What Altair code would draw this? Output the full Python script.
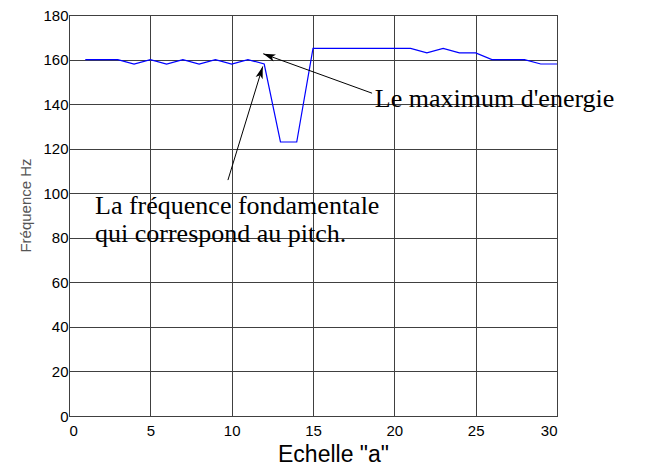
import math
import altair as alt
import pandas as pd

# ---- data ----
scale_a = list(range(1, 31))
freq_hz = [160, 160, 160, 158, 160, 158, 160, 158, 160, 158,
           160, 158, 123, 123, 165, 165, 165, 165, 165, 165,
           165, 163, 165, 163, 163, 160, 160, 160, 158, 158]

x_ticks = [0, 5, 10, 15, 20, 25, 30]
y_ticks = [0, 20, 40, 60, 80, 100, 120, 140, 160, 180]

# annotation texts (data coordinates)
ann_text = ["La fréquence fondamentale", "qui correspond au pitch.", "Le maximum d'energie"]
ann_tx = [1.6, 1.6, 18.8]
ann_ty = [90.6, 78.2, 138.6]

# arrows: start -> tip (data coordinates)
arr_x0 = [9.77, 18.63]
arr_y0 = [105.9, 144.9]
arr_x1 = [11.91, 11.94]
arr_y1 = [156.9, 162.6]

W, H = 488, 401
px_x = W / 30.0
px_y = H / 180.0

line_df = pd.DataFrame({"a": scale_a, "f": freq_hz})
text_df = pd.DataFrame({"t": ann_text, "x": ann_tx, "y": ann_ty})
angles = []
for x0, y0, x1, y1 in zip(arr_x0, arr_y0, arr_x1, arr_y1):
    dx = (x1 - x0) * px_x
    dy = -(y1 - y0) * px_y
    ang = math.degrees(math.atan2(dx, -dy)) % 360
    angles.append(ang)
arr_df = pd.DataFrame({"x0": arr_x0, "y0": arr_y0, "x1": arr_x1, "y1": arr_y1, "ang": angles})

xs = alt.Scale(domain=[0, 30], nice=False, zero=False)
ys = alt.Scale(domain=[0, 180], nice=False)

xaxis = alt.Axis(values=x_ticks, grid=True, ticks=False, domain=False,
                 labelFont="Liberation Sans", labelFontSize=15, labelColor="black",
                 labelPadding=7, title='Echelle "a"', titleFont="Liberation Sans",
                 titleFontSize=23, titleFontWeight="normal", titleColor="black",
                 titleX=264, titleY=45, titleBaseline="alphabetic", titleAlign="center")
yaxis = alt.Axis(values=y_ticks, grid=True, ticks=False, domain=False,
                 labelFont="Liberation Sans", labelFontSize=15, labelColor="black",
                 labelPadding=1, title="Fréquence Hz", titleFont="Liberation Sans",
                 titleFontSize=15, titleFontWeight="normal", titleColor="#555555",
                 titleAngle=270, titleX=-44, titleY=190, titleAlign="center",
                 titleBaseline="middle")

line = alt.Chart(line_df).mark_line(color="#0000ff", strokeWidth=1.2).encode(
    x=alt.X("a:Q", scale=xs, axis=xaxis),
    y=alt.Y("f:Q", scale=ys, axis=yaxis),
)

rules = alt.Chart(arr_df).mark_rule(color="black", strokeWidth=1).encode(
    x=alt.X("x0:Q", scale=xs), y=alt.Y("y0:Q", scale=ys),
    x2="x1:Q", y2="y1:Q",
)

heads = alt.Chart(arr_df).mark_point(
    shape="M0,0 L-0.6,2 L0,1.5 L0.6,2 Z", filled=True, color="black",
    size=150, opacity=1, strokeWidth=0,
).encode(
    x=alt.X("x1:Q", scale=xs), y=alt.Y("y1:Q", scale=ys),
    angle=alt.Angle("ang:Q", scale=None),
)

texts = alt.Chart(text_df).mark_text(
    align="left", baseline="alphabetic", font="Liberation Serif",
    fontSize=26, color="black",
).encode(
    x=alt.X("x:Q", scale=xs), y=alt.Y("y:Q", scale=ys), text="t:N",
)

chart = alt.layer(line, rules, heads, texts).properties(
    width=W, height=H,
    autosize=alt.AutoSizeParams(type="none"),
    padding={"left": 69, "top": 15, "right": 88, "bottom": 50},
    background="white",
).configure_view(stroke="black", strokeWidth=1).configure_axis(
    gridColor="#404040", gridWidth=1, gridOpacity=1,
)

chart.save("out.html", embed_options={"renderer": "svg", "actions": False})
